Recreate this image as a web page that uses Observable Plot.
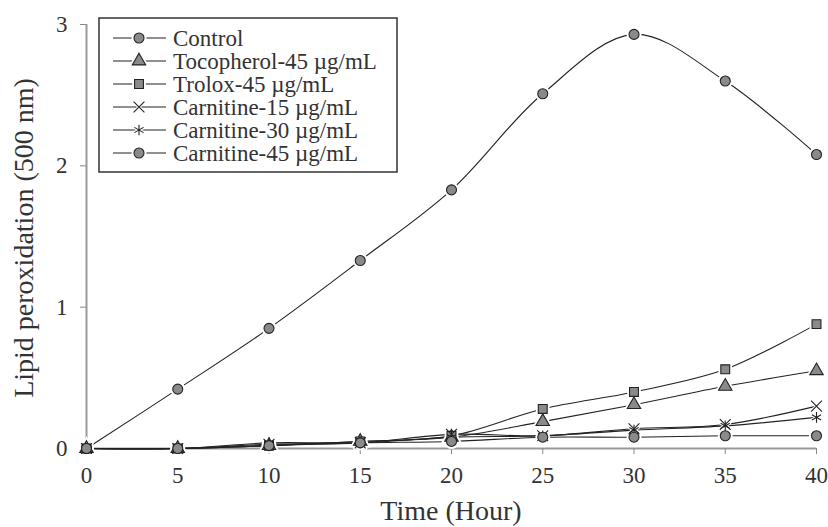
<!DOCTYPE html>
<html><head><meta charset="utf-8">
<script src="https://cdn.jsdelivr.net/npm/d3@7"></script>
<script src="https://cdn.jsdelivr.net/npm/@observablehq/plot@0.6"></script>
<style>body{margin:0;background:#fff}</style>
</head><body><div id="chart"></div>
<script>
const hours = [0, 5, 10, 15, 20, 25, 30, 35, 40];
const seriesNames = ["Control", "Tocopherol-45 µg/mL", "Trolox-45 µg/mL", "Carnitine-15 µg/mL", "Carnitine-30 µg/mL", "Carnitine-45 µg/mL"];
const seriesSymbols = ["circle", "triangle", "square", "times", "asterisk", "circle"];
const control    = [0, 0.42, 0.85, 1.33, 1.83, 2.51, 2.93, 2.60, 2.08];
const tocopherol = [0, 0, 0.02, 0.05, 0.08, 0.19, 0.31, 0.44, 0.55];
const trolox     = [0, 0, 0.02, 0.05, 0.09, 0.28, 0.40, 0.56, 0.88];
const carn15     = [0, 0, 0.03, 0.04, 0.10, 0.09, 0.14, 0.17, 0.30];
const carn30     = [0, 0, 0.04, 0.04, 0.08, 0.09, 0.13, 0.16, 0.22];
const carn45     = [0, 0, 0.02, 0.04, 0.05, 0.08, 0.08, 0.09, 0.09];
const yTicks = [0, 1, 2, 3];
const xTitle = "Time (Hour)";
const yTitle = "Lipid peroxidation (500 nm)";

const allValues = [control, tocopherol, trolox, carn15, carn30, carn45];
const data = [];
seriesNames.forEach((s, i) => hours.forEach((h, j) => data.push({series: s, hour: h, value: allValues[i][j]})));

const font = "'Liberation Serif', 'Times New Roman', serif";
const R = 5;

const chart = Plot.plot({
  width: 828, height: 527,
  marginLeft: 86, marginRight: 12, marginTop: 24, marginBottom: 79,
  style: {fontFamily: font, fontSize: "23px", color: "#333", background: "#fff"},
  x: {domain: [0, 40]},
  y: {domain: [0, 3]},
  symbol: {domain: seriesNames, range: seriesSymbols},
  marks: [
    Plot.ruleX([0], {stroke: "#999", strokeWidth: 2}),
    Plot.ruleY([0], {stroke: "#999", strokeWidth: 2}),
    Plot.axisY({ticks: yTicks, tickFormat: d3.format("d"), tickSize: 6, tickPadding: 13, label: null, stroke: "#888"}),
    Plot.axisX({ticks: hours, tickFormat: d3.format("d"), tickSize: 6, tickPadding: 12, label: null, stroke: "#888"}),
    Plot.line(data, {x: "hour", y: "value", z: "series", curve: "catmull-rom", stroke: "#222", strokeWidth: 1.1}),
    Plot.dot(data, {x: "hour", y: "value", symbol: "series", r: R + 1, fill: "#fff", stroke: "#fff", strokeWidth: 3}),
    Plot.dot(data, {x: "hour", y: "value", symbol: "series", r: R, fill: "#8a8a8a", stroke: "#222", strokeWidth: 1.1})
  ]
});
document.getElementById("chart").appendChild(chart);

const svg = d3.select(chart);
// axis titles
svg.append("text").attr("x", 451).attr("y", 520).attr("text-anchor", "middle")
  .attr("font-family", font).attr("font-size", 28).attr("fill", "#333").text(xTitle);
svg.append("text").attr("transform", "translate(33,238) rotate(-90)").attr("text-anchor", "middle")
  .attr("font-family", font).attr("font-size", 28).attr("fill", "#333").text(yTitle);

// legend
const symMap = {circle: d3.symbolCircle, triangle: d3.symbolTriangle, square: d3.symbolSquare, times: d3.symbolTimes, asterisk: d3.symbolAsterisk};
const lg = svg.append("g").attr("transform", "translate(99,18)");
lg.append("rect").attr("width", 298).attr("height", 154).attr("fill", "#fff").attr("stroke", "#333").attr("stroke-width", 1.5);
seriesNames.forEach((s, i) => {
  const yy = 20 + i * 23;
  const g = lg.append("g").attr("transform", `translate(0,${yy})`);
  g.append("line").attr("x1", 14).attr("x2", 67).attr("y1", 0).attr("y2", 0).attr("stroke", "#222").attr("stroke-width", 1.1);
  g.append("path").attr("transform", "translate(40,0)")
    .attr("d", d3.symbol(symMap[seriesSymbols[i]], Math.PI * (R + 1) * (R + 1))())
    .attr("fill", "#fff").attr("stroke", "#fff").attr("stroke-width", 3);
  g.append("path").attr("transform", "translate(40,0)")
    .attr("d", d3.symbol(symMap[seriesSymbols[i]], Math.PI * R * R)())
    .attr("fill", "#8a8a8a").attr("stroke", "#222").attr("stroke-width", 1.1);
  g.append("text").attr("x", 74).attr("y", 0).attr("dy", "0.35em").attr("text-anchor", "start")
    .attr("font-family", font).attr("font-size", 23).attr("fill", "#333").text(s);
});
</script>
</body></html>
